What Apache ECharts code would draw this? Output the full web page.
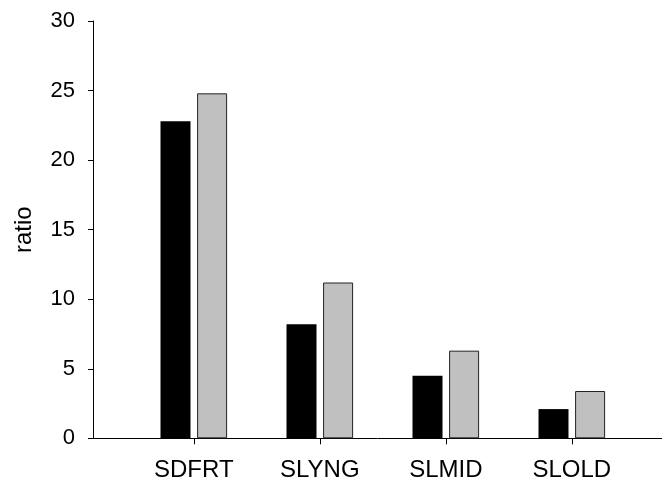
<!DOCTYPE html>
<html>
<head>
<meta charset="utf-8">
<script src="https://cdn.jsdelivr.net/npm/echarts@6/dist/echarts.min.js"></script>
<style>html,body{margin:0;padding:0;background:#fff}#c{width:662px;height:484px}</style>
</head>
<body>
<div id="c"></div>
<script>
var categories = ['SDFRT', 'SLYNG', 'SLMID', 'SLOLD'];
var blackValues = [22.8, 8.2, 4.5, 2.1];
var grayValues = [24.8, 11.2, 6.3, 3.4];
var yTicks = [0, 5, 10, 15, 20, 25, 30];

var positions = categories.map(function (c, i) { return i + 1; });
function pairs(vals) { return vals.map(function (v, i) { return [positions[i], v]; }); }

var font = '"Liberation Sans", Arial, sans-serif';
var chart = echarts.init(document.getElementById('c'), null, { renderer: 'canvas' });
chart.setOption({
  animation: false,
  backgroundColor: '#fff',
  grid: { left: 93, right: 0, top: 21, bottom: 45.7, containLabel: false },
  xAxis: {
    type: 'value',
    min: 0.2,
    max: 0.2 + 569 / 126,
    axisLine: { show: true, onZero: false, lineStyle: { color: '#000', width: 1 } },
    axisTick: { show: true, customValues: positions, length: 6, inside: false, lineStyle: { color: '#000' } },
    axisLabel: {
      show: true,
      customValues: positions,
      formatter: function (v) { return categories[Math.round(v) - 1] || ''; },
      color: '#000', fontSize: 24, fontFamily: font, margin: 20
    },
    splitLine: { show: false }
  },
  yAxis: {
    type: 'value',
    min: yTicks[0],
    max: yTicks[yTicks.length - 1],
    interval: 5,
    name: 'ratio',
    nameLocation: 'middle',
    nameRotate: 90,
    nameGap: 57,
    nameTextStyle: { color: '#000', fontSize: 24, fontFamily: font },
    axisLine: { show: true, onZero: false, lineStyle: { color: '#000', width: 1 } },
    axisTick: { show: true, length: 5, inside: false, lineStyle: { color: '#000' } },
    axisLabel: { color: '#000', fontSize: 22, fontFamily: font, margin: 18 },
    splitLine: { show: false }
  },
  series: [
    {
      type: 'bar',
      data: pairs(blackValues),
      barWidth: 30,
      barGap: '22%',
      itemStyle: { color: '#000', borderColor: '#000', borderWidth: 0 }
    },
    {
      type: 'bar',
      data: pairs(grayValues),
      barWidth: 30,
      barGap: '22%',
      itemStyle: { color: '#c0c0c0', borderColor: '#222', borderWidth: 1 }
    }
  ]
});
</script>
</body>
</html>
